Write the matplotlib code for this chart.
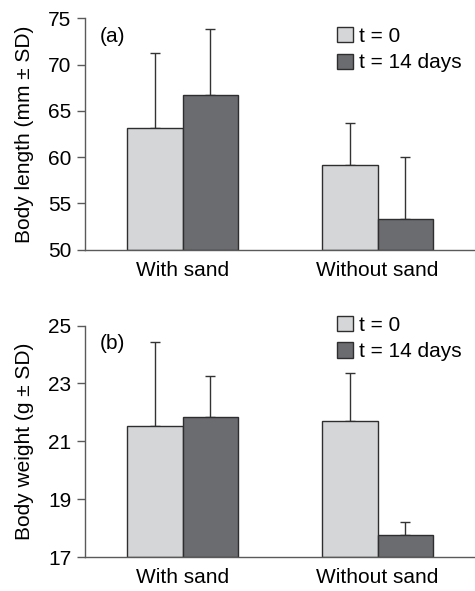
import numpy as np
import matplotlib
matplotlib.use('Agg')
import matplotlib.pyplot as plt
from matplotlib.patches import Rectangle

plt.rcParams['font.family'] = ['Liberation Sans', 'DejaVu Sans']

groups = ['With sand', 'Without sand']
series = ['t = 0', 't = 14 days']

length_t0 = [63.2, 59.1]
length_t14 = [66.7, 53.3]
length_sd_t0 = [8.1, 4.55]
length_sd_t14 = [7.1, 6.7]

weight_t0 = [21.54, 21.69]
weight_t14 = [21.85, 17.76]
weight_sd_t0 = [2.89, 1.68]
weight_sd_t14 = [1.41, 0.44]

light = '#d5d6d8'
dark = '#6b6c70'
edge = '#2e2e2e'
axcol = '#5a5a5a'

fig = plt.figure(figsize=(4.75, 5.91), dpi=100)
ax1 = fig.add_axes([0.179, 0.5775, 0.821, 0.3915])
ax2 = fig.add_axes([0.179, 0.0575, 0.821, 0.3915])

w = 0.285
x = np.arange(len(groups))
fs = 15


def panel(ax, v0, v14, e0, e14, ylim, yticks, ylabel, tag, leg_y):
    for vals, errs, col, off, lab in [(v0, e0, light, -w / 2, series[0]),
                                       (v14, e14, dark, w / 2, series[1])]:
        ax.errorbar(x + off, vals, yerr=[np.zeros(len(vals)), errs], fmt='none',
                    ecolor='#333333', elinewidth=1.0, capsize=3.5, capthick=1.0, zorder=1)
        ax.bar(x + off, np.array(vals) - ylim[0], w, bottom=ylim[0], color=col,
               edgecolor=edge, linewidth=1.0, zorder=2, label=lab)
    ax.set_xlim(-0.5, 1.5)
    ax.set_ylim(*ylim)
    ax.set_yticks(yticks)
    ax.set_xticks(x)
    ax.set_xticklabels(groups, fontsize=fs)
    ax.tick_params(axis='x', length=0, pad=8)
    ax.tick_params(axis='y', length=6, width=1, color=axcol, labelsize=fs, pad=4)
    for s in ['top', 'right']:
        ax.spines[s].set_visible(False)
    for s in ['left', 'bottom']:
        ax.spines[s].set_color(axcol)
        ax.spines[s].set_linewidth(1)
    ax.set_ylabel(ylabel, fontsize=fs, labelpad=10)
    ax.text(0.038, 0.922, tag, transform=ax.transAxes, fontsize=fs, va='center')
    handles = [Rectangle((0, 0), 1, 1, facecolor=light, edgecolor=edge, linewidth=1),
               Rectangle((0, 0), 1, 1, facecolor=dark, edgecolor=edge, linewidth=1)]
    ax.legend(handles, series, loc='upper left', bbox_to_anchor=(0.646, leg_y),
              frameon=False, fontsize=fs, handlelength=0.75, handleheight=0.75,
              handletextpad=0.3, labelspacing=0.35, borderpad=0, borderaxespad=0)


panel(ax1, length_t0, length_t14, length_sd_t0, length_sd_t14,
      (50, 75), [50, 55, 60, 65, 70, 75], 'Body length (mm \u00b1 SD)', '(a)', 0.962)
panel(ax2, weight_t0, weight_t14, weight_sd_t0, weight_sd_t14,
      (17, 25), [17, 19, 21, 23, 25], 'Body weight (g \u00b1 SD)', '(b)', 1.042)

fig.savefig('out.png', dpi=100)
